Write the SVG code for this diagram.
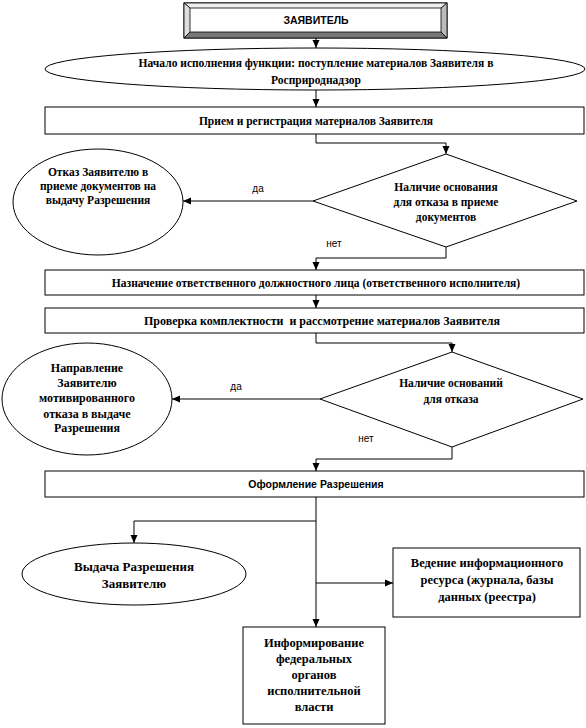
<svg xmlns="http://www.w3.org/2000/svg" width="586" height="728" viewBox="0 0 586 728">
<defs>
<marker id="arr" markerUnits="userSpaceOnUse" markerWidth="8" markerHeight="8" refX="8" refY="4" orient="auto">
<path d="M0,0.5 L8,4 L0,7.5 z" fill="#000"/>
</marker>
<style>
.shape{fill:#fff;stroke:#000;stroke-width:1}
.t{font-family:"Liberation Serif","Times New Roman",serif;font-weight:bold;font-size:11.5px;fill:#000;text-anchor:middle}
.s{font-family:"Liberation Sans",Arial,sans-serif;font-size:10px;fill:#000;text-anchor:middle}
.sb{font-family:"Liberation Sans",Arial,sans-serif;font-weight:bold;font-size:10.5px;fill:#000;text-anchor:middle}
.c{fill:none;stroke:#000;stroke-width:1;marker-end:url(#arr)}
.b{stroke:#000;stroke-width:0.8}
</style>
</defs>
<rect width="586" height="728" fill="#fff"/>

<g id="applicant">
<rect x="184" y="3" width="263" height="35" fill="#fff" stroke="#000"/>
<polygon class="b" points="184,3 447,3 441,8 190,8" fill="#eeeeee"/>
<polygon class="b" points="184,3 190,8 190,32 184,38" fill="#dddddd"/>
<polygon class="b" points="447,3 447,38 441,32 441,8" fill="#bbbbbb"/>
<polygon class="b" points="184,38 190,32 441,32 447,38" fill="#777777"/>
<text class="sb" x="316" y="24">ЗАЯВИТЕЛЬ</text>
</g>

<g id="start">
<ellipse class="shape" cx="315" cy="69" rx="270" ry="21"/>
<text class="t" x="316" y="67">Начало исполнения функции: поступление материалов Заявителя в</text>
<text class="t" x="316" y="84">Росприроднадзор</text>
</g>

<g id="receive">
<rect class="shape" x="45" y="107" width="539" height="27"/>
<text class="t" x="316" y="125">Прием и регистрация материалов Заявителя</text>
</g>

<g id="decision1">
<polygon class="shape" points="446,154 577,201 446,247 313,201"/>
<text class="t" x="446" y="191">Наличие основания</text>
<text class="t" x="446" y="206">для отказа в приеме</text>
<text class="t" x="446" y="221">документов</text>
</g>

<g id="refuse1">
<ellipse class="shape" cx="98" cy="202" rx="85" ry="53"/>
<text class="t" x="98" y="176">Отказ Заявителю в</text>
<text class="t" x="98" y="190">приеме документов на</text>
<text class="t" x="98" y="204">выдачу Разрешения</text>
</g>

<g id="assign">
<rect class="shape" x="45" y="270" width="539" height="25"/>
<text class="t" x="316" y="287">Назначение ответственного должностного лица (ответственного исполнителя)</text>
</g>

<g id="check">
<rect class="shape" x="45" y="308" width="539" height="25"/>
<text class="t" x="322" y="325" style="font-size:12px" xml:space="preserve">Проверка комплектности  и рассмотрение материалов Заявителя</text>
</g>

<g id="decision2">
<polygon class="shape" points="452,352 583,399 452,447 320,399"/>
<text class="t" x="451" y="387">Наличие оснований</text>
<text class="t" x="451" y="403">для отказа</text>
</g>

<g id="refuse2">
<ellipse class="shape" cx="87" cy="399" rx="85" ry="56"/>
<text class="t" x="87" y="372" style="font-size:12px">Направление</text>
<text class="t" x="87" y="387" style="font-size:12px">Заявителю</text>
<text class="t" x="87" y="402" style="font-size:12px">мотивированного</text>
<text class="t" x="87" y="418" style="font-size:12px">отказа в выдаче</text>
<text class="t" x="87" y="432" style="font-size:12px">Разрешения</text>
</g>

<g id="issue">
<rect class="shape" x="45" y="471" width="539" height="26"/>
<text class="sb" x="316" y="488" style="font-weight:600">Оформление Разрешения</text>
</g>

<g id="deliver">
<ellipse class="shape" cx="134" cy="574" rx="112" ry="31"/>
<text class="t" x="134" y="571" style="font-size:13px">Выдача Разрешения</text>
<text class="t" x="134" y="588" style="font-size:13px">Заявителю</text>
</g>

<g id="register">
<rect class="shape" x="393" y="548" width="187" height="69"/>
<text class="t" x="487" y="567" style="font-size:12.5px">Ведение информационного</text>
<text class="t" x="487" y="584" style="font-size:12.5px">ресурса (журнала, базы</text>
<text class="t" x="487" y="601" style="font-size:12.5px">данных (реестра)</text>
</g>

<g id="inform">
<rect class="shape" x="243" y="627" width="142" height="97"/>
<text class="t" x="314" y="647" style="font-size:12.5px">Информирование</text>
<text class="t" x="314" y="663" style="font-size:12.5px">федеральных</text>
<text class="t" x="314" y="679" style="font-size:12.5px">органов</text>
<text class="t" x="314" y="695" style="font-size:12.5px">исполнительной</text>
<text class="t" x="314" y="711" style="font-size:12.5px">власти</text>
</g>

<g id="connectors">
<path class="c" d="M316,38 V48"/>
<path class="c" d="M316,90 V107"/>
<path class="c" d="M316,134 V143 H446 V154"/>
<path class="c" d="M313,201 H183"/>
<path class="c" d="M446,247 V258 H316 V270"/>
<path class="c" d="M316,295 V308"/>
<path class="c" d="M316,333 V343 H452 V352"/>
<path class="c" d="M320,399 H172"/>
<path class="c" d="M452,447 V459 H316 V471"/>
<path class="c" d="M316,497 V627"/>
<path class="c" d="M316,521 H134 V543"/>
<path class="c" d="M316,583 H393"/>
<text class="s" x="258" y="192">да</text>
<text class="s" x="334" y="247">нет</text>
<text class="s" x="236" y="390">да</text>
<text class="s" x="366" y="442">нет</text>
</g>
</svg>
